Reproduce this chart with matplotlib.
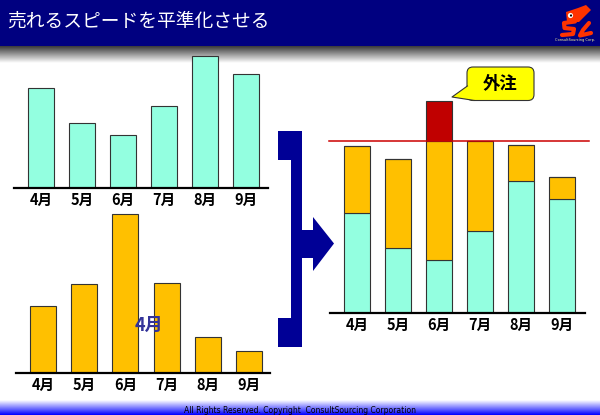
import matplotlib
matplotlib.use("Agg")
import matplotlib.pyplot as plt
import numpy as np
from matplotlib.patches import Rectangle, Polygon, FancyBboxPatch, Circle
from matplotlib.colors import LinearSegmentedColormap

plt.rcParams['font.family'] = ['Noto Sans CJK JP', 'DejaVu Sans']

# data (units ~ pixels of the original slide)
months = ['4月', '5月', '6月', '7月', '8月', '9月']
base_demand = [100, 65, 53, 82, 132, 114]     # teal: steady sales
peak_demand = [67, 89, 159, 90, 36, 22]       # orange: fluctuating sales
capacity = 172                                 # red line

teal = '#93FFE0'
orange = '#FFC000'
red = '#C00000'
edge = '#333333'

W, H = 600, 415
fig = plt.figure(figsize=(W / 100, H / 100), dpi=100)

# overlay in pixel coords for slide decorations
ov = fig.add_axes([0, 0, 1, 1], zorder=0)
ov.set_axis_off()

# title bar + shadow
ov.add_patch(Rectangle((0, 0), W, 46, color='#000080', lw=0))
shadow = LinearSegmentedColormap.from_list('sh', ['#3a3a3a', '#ffffff'])
ov.imshow(np.linspace(0, 1, 64).reshape(-1, 1), cmap=shadow, aspect='auto',
          extent=(0, W, 63, 46))
ov.text(7, 21, '売れるスピードを平準化させる', color='white', fontsize=13.5,
        va='center', ha='left')

# footer gradient
foot = LinearSegmentedColormap.from_list('ft', ['#ffffff', '#8080ff', '#0000ff'])
ov.imshow(np.linspace(0, 1, 64).reshape(-1, 1), cmap=foot, aspect='auto',
          extent=(0, W, 415, 400))
ov.text(300, 410, 'All Rights Reserved. Copyright  ConsultSourcing Corporation',
        fontsize=5.5, ha='center', va='center', color='black', family='DejaVu Sans')

# logo (rough)
ov.add_patch(Polygon([(566, 12), (578, 8), (586, 5), (591, 10), (585, 16),
                      (579, 22), (567, 22)], closed=True, fc='#FF3300', lw=0))
ov.add_patch(Circle((570.5, 15.5), 2.6, fc='white', lw=0))
ov.add_patch(Circle((571, 15.5), 1.1, fc='black', lw=0))
ov.plot([575, 564, 564.5, 574, 573, 562], [21.5, 23, 28, 29, 34, 35],
        color='#FF3300', lw=3, solid_capstyle='round')
ov.plot([589, 583, 580, 591], [23, 30, 35.5, 33], color='#FF3300', lw=3,
        solid_capstyle='round')
ov.text(575, 40.5, 'ConsultSourcing Corp.', fontsize=2.5, color='#ffff99',
        ha='center', va='center', family='DejaVu Sans')

# bracket with arrow
ov.add_patch(Polygon([(278, 131), (302, 131), (302, 230), (313, 230), (313, 217),
                      (334, 243.5), (313, 271), (313, 258), (302, 258), (302, 347),
                      (278, 347), (278, 318), (291, 318), (291, 160), (278, 160)],
                     closed=True, fc='#000096', lw=0))

ov.set_xlim(0, W)
ov.set_ylim(H, 0)


def make_ax(x0, x1, base, top, first, step):
    ax = fig.add_axes([x0 / W, 1 - base / H, (x1 - x0) / W, (base - top) / H],
                      zorder=1)
    ax.patch.set_alpha(0)
    ax.set_xlim((x0 - first) / step, (x1 - first) / step)
    ax.set_ylim(0, base - top)
    for s in ['top', 'left', 'right']:
        ax.spines[s].set_visible(False)
    ax.spines['bottom'].set_linewidth(1.6)
    ax.spines['bottom'].set_color('black')
    ax.set_yticks([])
    ax.set_xticks(range(len(months)))
    ax.set_xticklabels(months, fontsize=10.5, fontweight='bold')
    ax.tick_params(axis='x', length=0, pad=2.5)
    return ax


x = np.arange(len(months))
bw = 0.634

# top left: steady part
ax1 = make_ax(14, 268, 188, 50, 41, 41)
ax1.bar(x, base_demand, bw, color=teal, edgecolor=edge, lw=0.8)

# bottom left: fluctuating part
ax2 = make_ax(16, 270, 373, 210, 43, 41.2)
ax2.bar(x, peak_demand, bw, color=orange, edgecolor=edge, lw=0.8)

# right: stacked and levelled to capacity
base_arr = np.array(base_demand)
peak_arr = np.array(peak_demand)
inside = np.minimum(peak_arr, np.maximum(capacity - base_arr, 0))
over = peak_arr - inside
ax3 = make_ax(330, 585, 313, 95, 357, 41)
ax3.bar(x, base_arr, bw, color=teal, edgecolor=edge, lw=0.8)
ax3.bar(x, inside, bw, bottom=base_arr, color=orange, edgecolor=edge, lw=0.8)
ax3.bar(x, over, bw, bottom=base_arr + inside, color=red, edgecolor=edge, lw=0.8)
ax3.plot([-0.68, 5.66], [capacity, capacity], color='#CC0000', lw=1.1,
         clip_on=False, zorder=3)

# top overlay: callout and stray label above the bars
top = fig.add_axes([0, 0, 1, 1], zorder=2)
top.set_axis_off()
top.patch.set_alpha(0)
top.add_patch(FancyBboxPatch((467, 67), 67, 33.5,
                             boxstyle='round,pad=0,rounding_size=6',
                             fc='#FFFF00', ec=edge, lw=0.8))
top.add_patch(Polygon([(467.4, 86), (452, 97), (474, 100.4), (474, 94), (470, 86)],
                      closed=True, fc='#FFFF00', lw=0))
top.plot([467.4, 452, 474], [86, 97, 100.4], color=edge, lw=0.8)
top.text(500.5, 84, '外注', fontsize=12.5, fontweight='bold', ha='center',
         va='center', color='black')
top.text(149, 325, '4月', fontsize=13, fontweight='bold', ha='center',
         va='center', color='#333399')
top.set_xlim(0, W)
top.set_ylim(H, 0)

fig.savefig('out.png', dpi=100)
